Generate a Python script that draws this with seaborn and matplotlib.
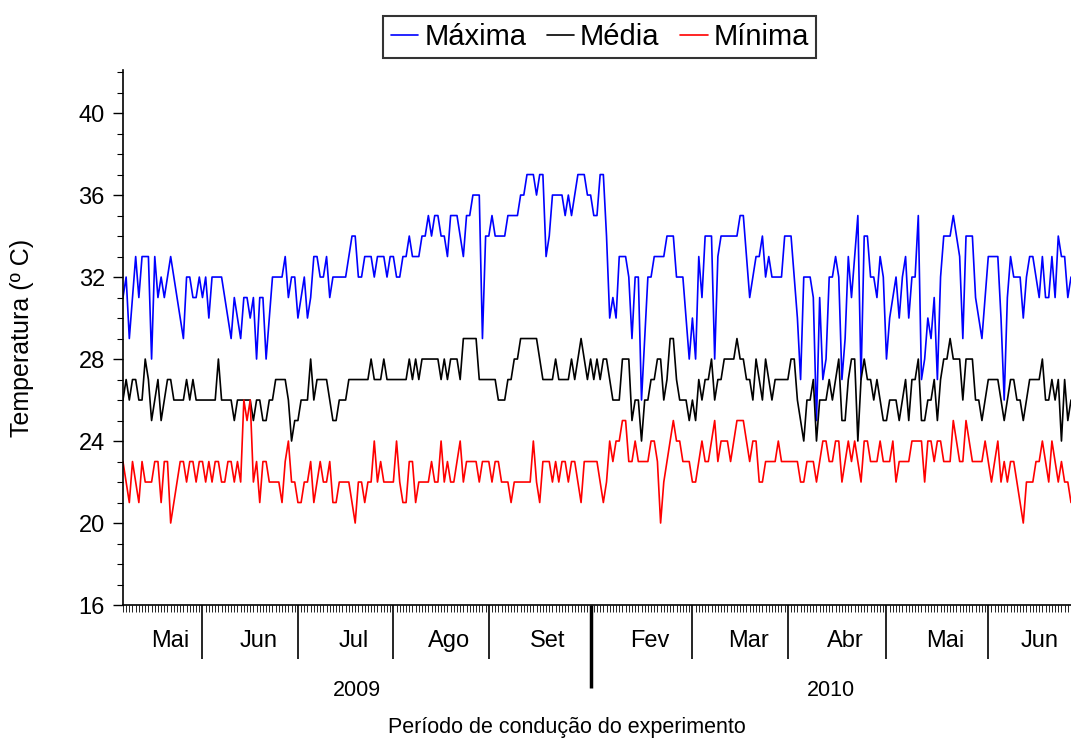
import numpy as np
import pandas as pd
import matplotlib
matplotlib.use("Agg")
import matplotlib.pyplot as plt
import matplotlib.transforms as mtransforms
from matplotlib.lines import Line2D
import seaborn as sns

# ---------------------------------------------------------
# dados (valores diários)
# ---------------------------------------------------------
meses_2009 = ["Mai", "Jun", "Jul", "Ago", "Set"]
dias_2009 = [25, 30, 30, 30, 32]
meses_2010 = ["Fev", "Mar", "Abr", "Mai", "Jun"]
dias_2010 = [32, 30, 31, 32, 27]

tmax_2009 = [
    31, 32, 29, 31, 33, 31, 33, 33, 33, 28, 33, 31, 32, 31, 32, 33, 32, 31, 30, 29, 32, 32, 31, 31, 32,
    31, 32, 30, 32, 32, 32, 32, 31, 30, 29, 31, 30, 29, 31, 31, 30, 31, 28, 31, 31, 28, 30, 32, 32, 32, 32, 33, 31, 32, 32,
    30, 31, 32, 30, 31, 33, 33, 32, 32, 33, 31, 32, 32, 32, 32, 32, 33, 34, 34, 32, 32, 33, 33, 33, 32, 33, 33, 33, 32, 33,
    33, 32, 32, 33, 33, 34, 33, 33, 33, 34, 34, 35, 34, 35, 35, 34, 34, 33, 35, 35, 35, 34, 33, 35, 35, 36, 36, 36, 29, 34,
    34, 35, 34, 34, 34, 34, 35, 35, 35, 35, 36, 36, 37, 37, 37, 36, 37, 37, 33, 34, 36, 36, 36, 36, 35, 36, 35, 36, 37, 37, 37, 36,
]
tmax_2010 = [
    36, 35, 35, 37, 37, 34, 30, 31, 30, 33, 33, 33, 32, 29, 32, 32, 26, 29, 32, 32, 33, 33, 33, 33, 34, 34, 34, 32, 32, 32, 30, 28,
    30, 28, 33, 31, 34, 34, 34, 28, 33, 34, 34, 34, 34, 34, 34, 35, 35, 33, 31, 32, 33, 33, 34, 32, 33, 32, 32, 32, 32, 34,
    34, 34, 32, 30, 27, 32, 32, 32, 31, 25, 31, 27, 28, 32, 32, 33, 32, 27, 29, 33, 31, 33, 35, 27, 34, 34, 32, 32, 31, 33, 32,
    28, 30, 31, 32, 30, 32, 33, 30, 32, 32, 35, 27, 28, 30, 29, 31, 27, 32, 34, 34, 34, 35, 34, 33, 29, 34, 34, 34, 31, 30, 29, 31,
    33, 33, 33, 33, 30, 26, 31, 33, 32, 32, 32, 30, 32, 33, 33, 32, 31, 33, 31, 31, 33, 31, 34, 33, 33, 31, 32,
]

tmed_2009 = [
    26, 27, 26, 27, 27, 26, 26, 28, 27, 25, 26, 27, 25, 26, 27, 27, 26, 26, 26, 26, 27, 26, 27, 26, 26,
    26, 26, 26, 26, 26, 28, 26, 26, 26, 26, 25, 26, 26, 26, 26, 26, 25, 26, 26, 25, 25, 26, 26, 27, 27, 27, 27, 26, 24, 25,
    25, 26, 26, 26, 28, 26, 27, 27, 27, 27, 26, 25, 25, 26, 26, 26, 27, 27, 27, 27, 27, 27, 27, 28, 27, 27, 27, 28, 27, 27,
    27, 27, 27, 27, 27, 28, 27, 28, 27, 28, 28, 28, 28, 28, 28, 27, 28, 27, 28, 28, 28, 27, 29, 29, 29, 29, 29, 27, 27, 27,
    27, 27, 27, 26, 26, 26, 27, 27, 28, 28, 29, 29, 29, 29, 29, 29, 28, 27, 27, 27, 27, 28, 27, 27, 27, 27, 28, 27, 28, 29, 28, 27,
]
tmed_2010 = [
    28, 27, 28, 27, 28, 28, 27, 26, 26, 26, 28, 28, 28, 25, 26, 26, 24, 26, 26, 27, 27, 28, 28, 26, 27, 29, 29, 27, 26, 26, 26, 25,
    26, 25, 27, 26, 27, 27, 28, 26, 27, 27, 28, 28, 28, 28, 29, 28, 28, 27, 27, 26, 28, 27, 26, 28, 27, 26, 27, 27, 27, 27,
    27, 28, 28, 26, 25, 24, 26, 26, 27, 24, 26, 26, 26, 27, 26, 27, 28, 25, 25, 27, 28, 28, 24, 27, 28, 27, 27, 26, 27, 26, 25,
    25, 26, 26, 26, 25, 26, 27, 25, 27, 27, 28, 25, 25, 26, 26, 27, 25, 27, 28, 28, 29, 28, 28, 28, 26, 28, 28, 28, 26, 26, 25, 26,
    27, 27, 27, 27, 26, 25, 26, 27, 27, 26, 26, 25, 26, 27, 27, 27, 27, 28, 26, 26, 27, 26, 27, 24, 27, 25, 26,
]

tmin_2009 = [
    23, 22, 21, 23, 22, 21, 23, 22, 22, 22, 23, 23, 21, 23, 23, 20, 21, 22, 23, 23, 22, 23, 23, 22, 23,
    23, 22, 23, 22, 23, 23, 22, 22, 23, 23, 22, 23, 22, 26, 25, 26, 22, 23, 21, 23, 23, 22, 22, 22, 22, 21, 23, 24, 22, 22,
    21, 21, 22, 22, 23, 21, 22, 23, 22, 22, 23, 21, 21, 22, 22, 22, 22, 21, 20, 22, 22, 21, 22, 22, 24, 22, 23, 22, 22, 22,
    22, 24, 22, 21, 21, 23, 23, 21, 22, 22, 22, 22, 23, 22, 22, 24, 22, 23, 22, 22, 23, 24, 22, 23, 23, 23, 23, 22, 23, 23,
    23, 22, 23, 23, 22, 22, 22, 21, 22, 22, 22, 22, 22, 22, 24, 22, 21, 23, 23, 23, 22, 23, 22, 23, 23, 22, 23, 23, 22, 21, 23, 23,
]
tmin_2010 = [
    23, 23, 23, 22, 21, 22, 24, 23, 24, 24, 25, 25, 23, 23, 24, 23, 23, 23, 23, 24, 24, 23, 20, 22, 23, 24, 25, 24, 24, 23, 23, 23,
    22, 22, 23, 24, 23, 23, 24, 25, 23, 24, 24, 24, 23, 24, 25, 25, 25, 24, 23, 24, 24, 22, 22, 23, 23, 23, 23, 24, 23, 23,
    23, 23, 23, 23, 22, 22, 23, 23, 23, 22, 23, 24, 24, 23, 23, 24, 24, 22, 23, 24, 23, 24, 23, 22, 24, 24, 23, 23, 23, 24, 23,
    23, 23, 24, 22, 23, 23, 23, 23, 24, 24, 24, 24, 22, 24, 24, 23, 24, 24, 23, 23, 23, 25, 24, 23, 23, 25, 24, 23, 23, 23, 23, 24,
    23, 22, 23, 24, 22, 23, 22, 23, 23, 22, 21, 20, 22, 22, 22, 23, 23, 24, 23, 22, 24, 23, 22, 23, 22, 22, 21,
]

series = ["Máxima", "Média", "Mínima"]
cores = {"Máxima": "#0000ff", "Média": "#000000", "Mínima": "#ff0000"}

# ---------------------------------------------------------
# monta tabela longa
# ---------------------------------------------------------
tmax = tmax_2009 + tmax_2010
tmed = tmed_2009 + tmed_2010
tmin = tmin_2009 + tmin_2010
n = len(tmax)
dia = np.arange(n)

df = pd.DataFrame({
    "dia": np.tile(dia, 3),
    "temp": tmax + tmed + tmin,
    "serie": [series[0]] * n + [series[1]] * n + [series[2]] * n,
})

sns.set_style("ticks")
plt.rcParams["font.family"] = ["Liberation Sans", "DejaVu Sans"]
plt.rcParams["text.color"] = "black"
plt.rcParams["axes.labelcolor"] = "black"
plt.rcParams["xtick.color"] = "black"
plt.rcParams["ytick.color"] = "black"

fig = plt.figure(figsize=(10.71, 7.4), dpi=100)
ax = fig.add_axes([0.1148, 0.1824, 0.8852, 0.723])

sns.lineplot(data=df, x="dia", y="temp", hue="serie", hue_order=series,
             palette=cores, estimator=None, sort=False, linewidth=1.2,
             legend=False, ax=ax)

ax.set_xlim(0, n - 1)
ax.set_ylim(16, 42.1)
sns.despine(ax=ax)
for s in ["left", "bottom"]:
    ax.spines[s].set_linewidth(1.2)
    ax.spines[s].set_color("black")

# eixo y
ax.set_yticks(range(16, 41, 4))
ax.set_yticks(range(16, 43), minor=True)
ax.tick_params(axis="y", which="major", length=7, width=1, pad=6, labelsize=17)
ax.tick_params(axis="y", which="minor", length=4, width=0.8)
ax.set_ylabel("Temperatura (º C)", fontsize=18)
ax.yaxis.set_label_coords(-0.094, 0.5)

# eixo x: um traço por dia, traço longo entre os meses
dias = dias_2009 + dias_2010
meses = meses_2009 + meses_2010
inicio = np.concatenate([[0], np.cumsum(dias)[:-1]])
fim = np.cumsum(dias)
virada = sum(dias_2009)

limites = [b for b in inicio[1:] if b != virada]
ax.set_xticks(limites)
ax.set_xticklabels([])
ax.set_xticks(dia, minor=True)
ax.tick_params(axis="x", which="major", length=39, width=1.2)
ax.tick_params(axis="x", which="minor", length=5, width=0.6)
ax.set_xlabel("")

trans = mtransforms.blended_transform_factory(ax.transData, ax.transAxes)
ax.plot([virada, virada], [0, -0.155], transform=trans, color="black",
        lw=2.5, clip_on=False, solid_capstyle="butt")

for m, a, b in zip(meses, inicio, fim):
    ax.text((a + b) / 2 + 2.5, -0.067, m, transform=trans, ha="center",
            va="center", fontsize=17)

ax.text(virada / 2, -0.16, "2009", transform=trans, ha="center", va="center", fontsize=15.5)
ax.text((virada + n - 1) / 2, -0.16, "2010", transform=trans, ha="center", va="center", fontsize=15.5)
ax.text(0.468, -0.228, "Período de condução do experimento", transform=ax.transAxes,
        ha="center", va="center", fontsize=15.5)

# legenda
handles = [Line2D([0], [0], color=cores[s], lw=1.2) for s in series]
leg = fig.legend(handles, series, loc="center", bbox_to_anchor=(0.56, 0.95),
                 ncol=3, fontsize=21, frameon=True, fancybox=False,
                 edgecolor="black", handlelength=0.95, handletextpad=0.2,
                 columnspacing=0.7, borderpad=0.25, borderaxespad=0)
leg.get_frame().set_linewidth(1.5)

fig.savefig("out.png", dpi=100)
